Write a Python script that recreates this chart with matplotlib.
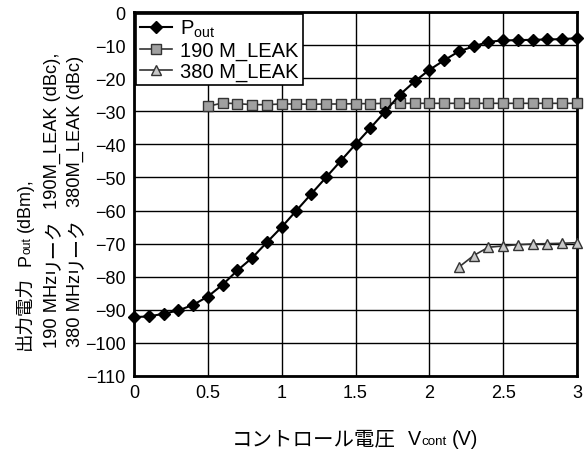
import matplotlib
matplotlib.use("Agg")
import matplotlib.pyplot as plt
from matplotlib.transforms import IdentityTransform

plt.rcParams['font.family'] = ['Liberation Sans', 'Noto Sans CJK JP', 'DejaVu Sans']
plt.rcParams['mathtext.fontset'] = 'custom'
plt.rcParams['mathtext.rm'] = 'Liberation Sans'
plt.rcParams['mathtext.it'] = 'Liberation Sans'
plt.rcParams['axes.unicode_minus'] = True

vcont = [0.0, 0.1, 0.2, 0.3, 0.4, 0.5, 0.6, 0.7, 0.8, 0.9, 1.0, 1.1, 1.2, 1.3, 1.4, 1.5,
         1.6, 1.7, 1.8, 1.9, 2.0, 2.1, 2.2, 2.3, 2.4, 2.5, 2.6, 2.7, 2.8, 2.9, 3.0]
pout = [-92.2, -92.0, -91.2, -90.2, -88.5, -86.0, -82.4, -78.1, -74.3, -69.6, -65.0, -60.0,
        -55.0, -50.0, -45.0, -40.0, -35.1, -30.1, -25.0, -21.0, -17.5, -14.6, -11.9, -10.4,
        -9.0, -8.6, -8.5, -8.4, -8.3, -8.2, -7.9]

v190 = [0.5, 0.6, 0.7, 0.8, 0.9, 1.0, 1.1, 1.2, 1.3, 1.4, 1.5, 1.6, 1.7, 1.8, 1.9, 2.0,
        2.1, 2.2, 2.3, 2.4, 2.5, 2.6, 2.7, 2.8, 2.9, 3.0]
leak190 = [-28.5, -27.5, -27.7, -28.0, -28.0, -27.8, -27.8, -27.9, -27.8, -27.8, -27.7, -27.7,
           -27.6, -27.6, -27.6, -27.6, -27.6, -27.6, -27.6, -27.6, -27.6, -27.6, -27.6, -27.6,
           -27.6, -27.6]

v380 = [2.2, 2.3, 2.4, 2.5, 2.6, 2.7, 2.8, 2.9, 3.0]
leak380 = [-77.1, -73.6, -71.1, -70.7, -70.3, -70.1, -70.0, -69.9, -69.7]

xticks = [0, 0.5, 1, 1.5, 2, 2.5, 3]
xticklabels = ['0', '0.5', '1', '1.5', '2', '2.5', '3']
yticks = list(range(0, -111, -10))

W, H = 588, 452
fig = plt.figure(figsize=(W / 100, H / 100), dpi=100)
ax = fig.add_axes([134 / W, 1 - 377 / H, (577 - 134) / W, (377 - 13) / H])

ax.plot(vcont, pout, color='black', lw=1.5, marker='D', ms=6.5, mfc='black', mec='black',
        label=r'P$_{\rm out}$', zorder=5, clip_on=False)
ax.plot(v190, leak190, color='#333333', lw=1.2, marker='s', ms=7, mfc='#a0a0a0', mec='#333333',
        mew=1.0, label='190 M_LEAK', zorder=4, clip_on=False)
ax.plot(v380, leak380, color='#333333', lw=1.2, marker='^', ms=7.5, mfc='#c8c8c8', mec='#333333',
        mew=1.0, label='380 M_LEAK', zorder=4, clip_on=False)

ax.set_xlim(0, 3)
ax.set_ylim(-110, 0)
ax.set_xticks(xticks)
ax.set_xticklabels(xticklabels)
ax.set_yticks(yticks)
ax.tick_params(axis='both', length=0, labelsize=13, pad=6)
ax.grid(True, color='black', lw=1.0)
ax.set_axisbelow(True)
for s in ax.spines.values():
    s.set_linewidth(2)

leg = ax.legend(loc='upper left', fontsize=14.5, frameon=True, fancybox=False,
                edgecolor='black', borderpad=0.2, labelspacing=0.08, handlelength=1.6,
                handletextpad=0.4, borderaxespad=0.1)
leg.get_frame().set_linewidth(1.2)
leg.get_frame().set_alpha(1)

fig.canvas.draw()
renderer = fig.canvas.get_renderer()


def text_width(s, size):
    t = fig.text(0, 0, s, fontsize=size)
    w = t.get_window_extent(renderer).width
    t.remove()
    return w


def pieces_length(pieces):
    tot = 0.0
    for p in pieces:
        if isinstance(p, (int, float)):
            tot += p
        else:
            tot += text_width(p[0], p[1])
    return tot


def fit(pieces, target):
    f = target / pieces_length(pieces)
    out = []
    for p in pieces:
        if isinstance(p, (int, float)):
            out.append(p * f)
        else:
            out.append((p[0], p[1] * f, p[2] * f))
    return out


def place_pieces(x0, y0, pieces, rotation=0):
    """pieces: list of (text, size, baseline_shift_px) or a number (gap px).
    x0,y0 in display pixels (origin bottom-left)."""
    pos = 0.0
    for p in pieces:
        if isinstance(p, (int, float)):
            pos += p
            continue
        s, size, shift = p
        if rotation == 0:
            x, y = x0 + pos, y0 + shift
        else:
            x, y = x0 - shift, y0 + pos
        fig.text(x, y, s, fontsize=size, transform=IdentityTransform(), rotation=rotation,
                 rotation_mode='anchor', ha='left', va='baseline')
        pos += text_width(s, size)
    return pos


CJ, LA, SUB = 14.5, 14, 9.5

# x label
xl_pieces = fit([('コントロール電圧', CJ, 0), 12, ('V', LA, 0), ('cont', SUB, 0), 5,
                 ('(V)', LA, 0)], 478 - 232)
place_pieces(232, H - 445, xl_pieces)

# y label, three rotated lines
yl1 = fit([('出力電力', CJ, 0), 11, ('P', LA, 0), ('out', SUB, -1), 6, ('(dBm),', LA, 0)], 350 - 178)
yl2 = fit([('190 MHz', LA, 0), 2, ('リーク', CJ, 0), 8, ('190M_LEAK (dBc),', LA, 0)], 348 - 52)
yl3 = fit([('380 MHz', LA, 0), 2, ('リーク', CJ, 0), 8, ('380M_LEAK (dBc)', LA, 0)], 347 - 55)
place_pieces(30, H - 350, yl1, rotation=90)
place_pieces(57, H - 348, yl2, rotation=90)
place_pieces(80, H - 347, yl3, rotation=90)

fig.savefig('out.png', dpi=100)
